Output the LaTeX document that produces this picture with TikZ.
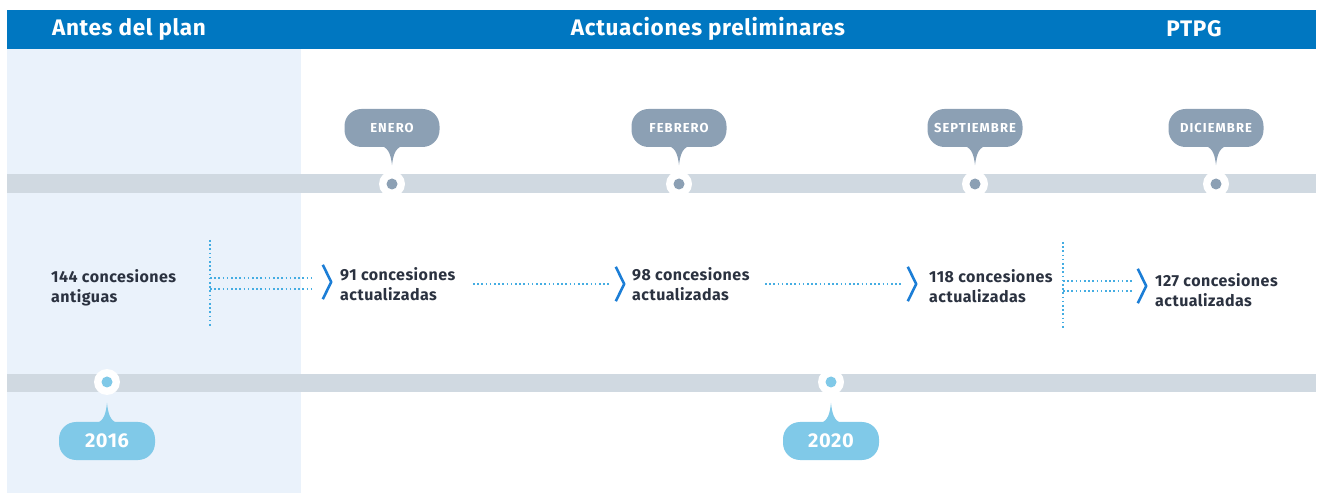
\documentclass[tikz,border=0pt]{standalone}
\usepackage{fontspec}
\setmainfont{Fira Sans}
\usetikzlibrary{positioning, calc}

\definecolor{barblue}{HTML}{0077C1}
\definecolor{panelblue}{HTML}{EAF2FB}
\definecolor{bandgrey}{HTML}{D0D9E1}
\definecolor{monthgrey}{HTML}{8CA0B4}
\definecolor{yearblue}{HTML}{80C9E8}
\definecolor{textdark}{HTML}{2B3240}
\definecolor{chevblue}{HTML}{1C7ED6}
\definecolor{linkblue}{HTML}{45ADE2}

\begin{document}
\begin{tikzpicture}[x=1pt,y=1pt,
    header/.style={text=white,inner sep=0pt,
        font=\bfseries\fontsize{22.5}{26}\selectfont\addfontfeatures{LetterSpace=3}},
    month/.style={fill=monthgrey,rounded corners=17pt,minimum width=95pt,minimum height=38pt,
        inner sep=0pt,text=white,font=\bfseries\fontsize{13}{15}\selectfont\addfontfeatures{LetterSpace=8}},
    year/.style={month,fill=yearblue,minimum width=96pt,
        font=\bfseries\fontsize{20}{23}\selectfont\addfontfeatures{LetterSpace=3}},
    ring/.style={circle,fill=white,minimum size=26pt,inner sep=0pt},
    mdot/.style={circle,fill=monthgrey,minimum size=11pt,inner sep=0pt},
    ydot/.style={circle,fill=yearblue,minimum size=11pt,inner sep=0pt},
    count/.style={align=left,anchor=west,text=textdark,inner sep=0pt,
        font=\bfseries\fontsize{16}{19.5}\selectfont\addfontfeatures{LetterSpace=3}},
    chev/.style={inner sep=0pt,minimum width=8pt,minimum height=34pt},
    link/.style={draw=linkblue,line width=1.6pt,dash pattern=on 1.6pt off 2.6pt}]

    \useasboundingbox (0,0) rectangle (1318,493);

    % header bar and panel
    \fill[panelblue] (7,0) rectangle (301,444);
    \fill[barblue] (7,444) rectangle (1316,483);
    \node[header] (antes) at (129,464) {Antes del plan};
    \node[header] (prelim) at (708,464) {Actuaciones preliminares};
    \node[header] (ptpg) at (1194,464) {PTPG};

    % bands
    \fill[bandgrey] (7,300) rectangle (1316,319);
    \fill[bandgrey] (7,101) rectangle (1316,119);

    % months
    \foreach \n/\x/\t in {jan/392/ENERO, feb/679/FEBRERO, sep/975/SEPTIEMBRE, dec/1216/DICIEMBRE}{
        \node[ring] (r\n) at (\x,309) {};
        \node[mdot] (d\n) at (r\n) {};
        \node[month] (\n) at (\x,365) {\t};
        \fill[monthgrey] ($(\n.south)+(-10,1)$) .. controls ($(\n.south)+(-3,-1)$) and ($(\n.south)+(-1,-9)$)
            .. ($(\n.south)+(0,-18)$) .. controls ($(\n.south)+(1,-9)$) and ($(\n.south)+(3,-1)$)
            .. ($(\n.south)+(10,1)$) -- cycle;
    }

    % years
    \foreach \n/\x/\t in {ya/107/2016, yb/831/2020}{
        \node[ring] (r\n) at (\x,111) {};
        \node[ydot] (d\n) at (r\n) {};
        \node[year] (\n) at (\x,52) {\t};
        \fill[yearblue] ($(\n.north)+(-10,-1)$) .. controls ($(\n.north)+(-3,1)$) and ($(\n.north)+(-1,9)$)
            .. ($(\n.north)+(0,19)$) .. controls ($(\n.north)+(1,9)$) and ($(\n.north)+(3,1)$)
            .. ($(\n.north)+(10,-1)$) -- cycle;
    }

    % counts
    \node[count] (c144) at (51,205) {144 concesiones\\antiguas};
    \node[chev] (k91) at (327,211) {};
    \node[count] (c91) at (340,209) {91 concesiones\\actualizadas};
    \node[chev] (k98) at (620,209) {};
    \node[count] (c98) at (632,209) {98 concesiones\\actualizadas};
    \node[chev] (k118) at (912,209) {};
    \node[count] (c118) at (929,207) {118 concesiones\\actualizadas};
    \node[chev] (k127) at (1142,207) {};
    \node[count] (c127) at (1155,203) {127 concesiones\\actualizadas};

    \foreach \k in {k91,k98,k118,k127}
        \draw[chevblue,line width=2.6pt,line join=round]
            (\k.north west) .. controls ($(\k.north west)!0.5!(\k.east)$) .. (\k.east)
            .. controls ($(\k.south west)!0.5!(\k.east)$) .. (\k.south west);

    % dotted links
    \coordinate (va) at (210,253);
    \coordinate (vb) at (210,165);
    \coordinate (wa) at (1063,251);
    \coordinate (wb) at (1063,163);
    \coordinate (s98) at (473,209);
    \coordinate (s118) at (765,209);
    \draw[link] (va) -- (vb);
    \draw[link] (wa) -- (wb);
    \draw[link] (va |- 0,215) -- ([xshift=-8pt]k91.west |- 0,215);
    \draw[link] (va |- 0,204) -- ([xshift=-8pt]k91.west |- 0,204);
    \draw[link] (s98) -- ([xshift=-6pt]k98.west);
    \draw[link] (s118) -- ([xshift=-6pt]k118.west);
    \draw[link] (wa |- 0,212) -- ([xshift=-6pt]k127.west |- 0,212);
    \draw[link] (wa |- 0,202) -- ([xshift=-6pt]k127.west |- 0,202);
\end{tikzpicture}
\end{document}
